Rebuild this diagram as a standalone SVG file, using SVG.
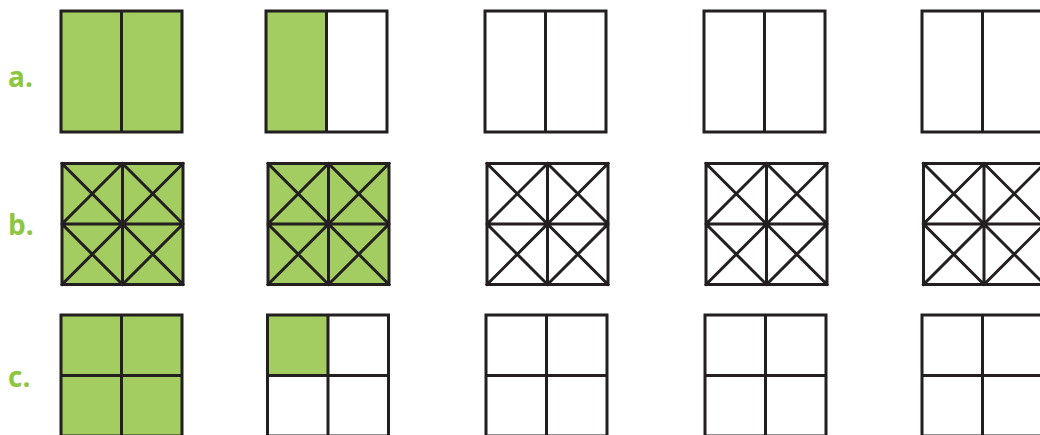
<svg xmlns="http://www.w3.org/2000/svg" xmlns:xlink="http://www.w3.org/1999/xlink" width="1040" height="435" viewBox="0 0 1040 435">
<style>
.ln{fill:none;stroke:#231f20;stroke-width:3;stroke-linejoin:miter;stroke-linecap:square}
.g{fill:#a3cd60}
.lbl{font-family:"Open Sans","Liberation Sans",sans-serif;font-weight:bold;font-size:28px;fill:#8dc63f}
</style>
<defs>
<path id="gridA" class="ln" d="M0 0H121V121H0Z M60.5 0V121"/>
<path id="gridB" class="ln" d="M0 0H121V121H0Z M60.5 0V121 M0 60.5H121 M0 0L121 121 M121 0L0 121 M60.5 0L121 60.5 L60.5 121 L0 60.5Z"/>
<path id="gridC" class="ln" d="M0 0H121V121H0Z M60.5 0V121 M0 60.5H121"/>
</defs>
<rect width="1040" height="435" fill="#ffffff"/>
<text class="lbl" x="8" y="87">a.</text>
<text class="lbl" x="8" y="235">b.</text>
<text class="lbl" x="8" y="387">c.</text>

<g id="a1" transform="translate(61,11)"><rect class="g" width="121" height="121"/><use xlink:href="#gridA"/></g>
<g id="a2" transform="translate(266,11)"><rect class="g" width="60.5" height="121"/><use xlink:href="#gridA"/></g>
<g id="a3" transform="translate(485,11)"><use xlink:href="#gridA"/></g>
<g id="a4" transform="translate(704,11)"><use xlink:href="#gridA"/></g>
<g id="a5" transform="translate(922,11)"><use xlink:href="#gridA"/></g>

<g id="b1" transform="translate(62,163.5)"><rect class="g" width="121" height="121"/><use xlink:href="#gridB"/></g>
<g id="b2" transform="translate(268,163.5)"><rect class="g" width="121" height="121"/><use xlink:href="#gridB"/></g>
<g id="b3" transform="translate(487,163.5)"><use xlink:href="#gridB"/></g>
<g id="b4" transform="translate(706,163.5)"><use xlink:href="#gridB"/></g>
<g id="b5" transform="translate(923.5,163.5)"><use xlink:href="#gridB"/></g>

<g id="c1" transform="translate(61,315)"><rect class="g" width="121" height="121"/><use xlink:href="#gridC"/></g>
<g id="c2" transform="translate(267.5,315)"><rect class="g" width="60.5" height="60.5"/><use xlink:href="#gridC"/></g>
<g id="c3" transform="translate(486,315)"><use xlink:href="#gridC"/></g>
<g id="c4" transform="translate(705,315)"><use xlink:href="#gridC"/></g>
<g id="c5" transform="translate(922,315)"><use xlink:href="#gridC"/></g>
<g id="connectors"/>
</svg>
